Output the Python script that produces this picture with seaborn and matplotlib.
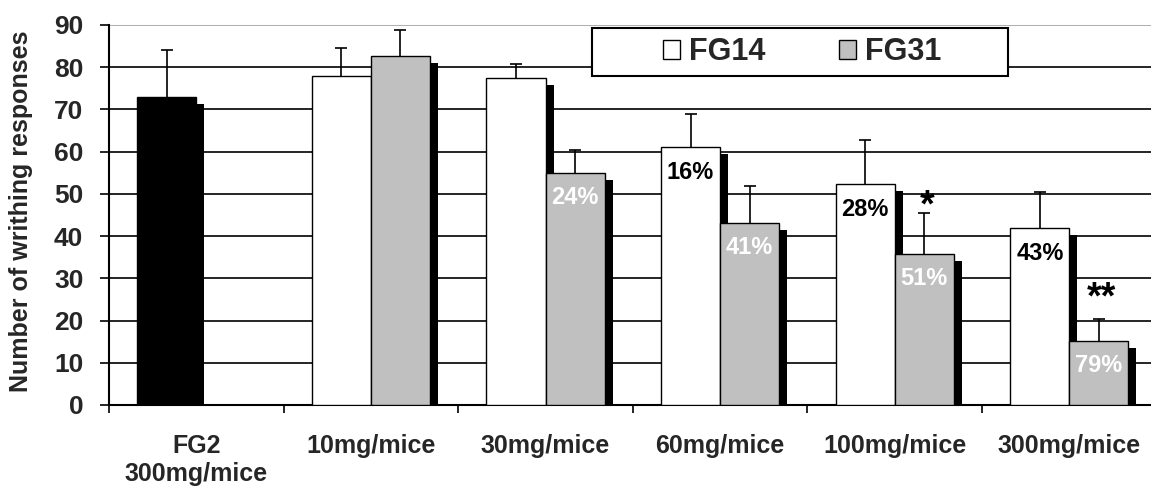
import numpy as np
import pandas as pd
import seaborn as sns
import matplotlib
matplotlib.use("Agg")
import matplotlib.pyplot as plt
from matplotlib import patheffects as pe
from matplotlib.patches import Patch, Rectangle

# ---- data -------------------------------------------------------------
categories = ["FG2\n300mg/mice", "10mg/mice", "30mg/mice",
              "60mg/mice", "100mg/mice", "300mg/mice"]
series_names = ["FG14", "FG31"]

fg2_value = 73.0
fg2_err = 11.0

fg14_values = [np.nan, 78.0, 77.5, 61.0, 52.3, 41.8]
fg14_errors = [np.nan, 6.5, 3.3, 7.8, 10.5, 8.7]
fg31_values = [np.nan, 82.7, 55.0, 43.2, 35.8, 15.2]
fg31_errors = [np.nan, 6.0, 5.5, 8.7, 9.6, 5.1]

fg14_labels = ["", "", "", "16%", "28%", "43%"]
fg31_labels = ["", "", "24%", "41%", "51%", "79%"]
fg31_signif = ["", "", "", "", "*", "**"]

# ---- style ------------------------------------------------------------
sns.set_theme(style="white")
plt.rcParams["font.family"] = ["Liberation Sans", "DejaVu Sans"]
plt.rcParams["font.weight"] = "bold"

fig = plt.figure(figsize=(11.51, 4.87), dpi=100)
ax = fig.add_axes([0.0947, 0.1684, 0.9102, 0.7803])

# the FG2 reference group occupies the first slot of the first dose group
left_values = [fg2_value] + fg14_values[1:]
left_errors = [fg2_err] + fg14_errors[1:]

df = pd.DataFrame({
    "dose": categories * 2,
    "series": ["FG14"] * len(categories) + ["FG31"] * len(categories),
    "count": left_values + fg31_values,
    "err": left_errors + fg31_errors,
    "label": fg14_labels + fg31_labels,
    "signif": [""] * len(categories) + fg31_signif,
})

sns.barplot(data=df, x="dose", y="count", hue="series",
            order=categories, hue_order=series_names,
            palette={"FG14": "white", "FG31": "#c0c0c0"},
            width=0.676, edgecolor="black", linewidth=1.0,
            errorbar=None, legend=False, ax=ax, zorder=3)

# FG2 bar is solid black
ax.containers[0].patches[0].set_facecolor("black")

# drop shadows behind every bar
for p in ax.patches:
    p.set_path_effects([
        pe.SimplePatchShadow(offset=(5.8, -5.0), shadow_rgbFace="black", alpha=1.0),
        pe.Normal(),
    ])

# error bars (upper side only), percentage labels and significance marks
for container, name in zip(ax.containers, series_names):
    rows = df[df["series"] == name].dropna(subset=["count"])
    xs, tops, errs = [], [], []
    for p, (_, row) in zip(container.patches, rows.iterrows()):
        x = p.get_x() + p.get_width() / 2
        h = p.get_height()
        xs.append(x)
        tops.append(h)
        errs.append(row["err"])
        if row["label"]:
            ax.annotate(row["label"], (x, h), xytext=(0, -18),
                        textcoords="offset points", ha="center", va="center",
                        fontsize=17, fontweight="bold",
                        color="white" if name == "FG31" else "black", zorder=6)
        if row["signif"]:
            dy = 5 if row["signif"] == "*" else 15
            ax.annotate(row["signif"], (x, h + row["err"]), xytext=(2, dy),
                        textcoords="offset points", ha="center", va="center",
                        fontsize=27, fontweight="bold", color="black", zorder=6)
    errs = np.array(errs)
    _, caps, _ = ax.errorbar(xs, tops, yerr=[np.zeros_like(errs), errs], fmt="none",
                             ecolor="black", elinewidth=1.2, capsize=4,
                             capthick=1.2, zorder=4)
    caps[0].set_visible(False)

# ---- axes -------------------------------------------------------------
ax.set_ylim(0, 90)
ax.set_xlim(-0.5, len(categories) - 0.5)
ax.set_yticks(range(0, 91, 10))
ax.yaxis.grid(True, color="black", linewidth=1.2)
ax.set_axisbelow(True)
ax.get_ygridlines()[-1].set_color("#a0a0a0")

for side in ("top", "right"):
    ax.spines[side].set_visible(False)
for side in ("left", "bottom"):
    ax.spines[side].set_color("black")
    ax.spines[side].set_linewidth(1.5)

ax.set_xticks(range(len(categories)))
ax.set_xticklabels(categories)
ax.set_xticks(np.arange(-0.5, len(categories), 1.0), minor=True)
ax.tick_params(axis="x", which="major", length=0, pad=21, labelsize=18)
ax.tick_params(axis="x", which="minor", length=6, width=1.2,
               direction="out", color="black", bottom=True)
ax.tick_params(axis="y", which="major", length=6.5, width=1.2, direction="out",
               pad=12, labelsize=19, color="black", left=True)

ax.set_xlabel("")
ax.set_ylabel("Number of writhing responses", fontsize=18, fontweight="bold")
ax.yaxis.set_label_coords(-0.0725, 0.509)

# ---- legend -----------------------------------------------------------
box = Rectangle((0.5143, 0.8439), 0.3614, 0.0986, transform=fig.transFigure,
                facecolor="white", edgecolor="black", linewidth=1.5,
                zorder=10, clip_on=False)
ax.add_patch(box)
handles = [Patch(facecolor="white", edgecolor="black", linewidth=1.0, label="FG14"),
           Patch(facecolor="#c0c0c0", edgecolor="black", linewidth=1.0, label="FG31")]
leg = ax.legend(handles=handles, loc="center", bbox_to_anchor=(0.697, 0.8932),
                bbox_transform=fig.transFigure, ncol=2, frameon=False,
                prop={"size": 22, "weight": "bold"},
                handlelength=0.56, handleheight=0.56, handletextpad=0.3,
                columnspacing=2.4)
leg.set_zorder(11)

fig.savefig("out.png", dpi=100)
